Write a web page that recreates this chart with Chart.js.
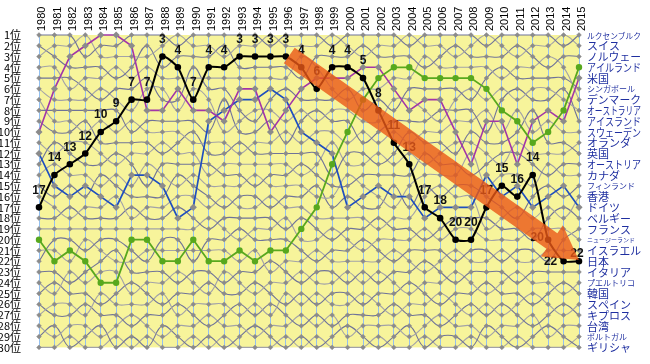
<!DOCTYPE html>
<html><head><meta charset="utf-8">
<script src="https://cdn.jsdelivr.net/npm/chart.js@4.4.1/dist/chart.umd.min.js"></script>
<style>html,body{margin:0;padding:0;background:#fff}#wrap{width:650px;height:364px;position:relative}</style>
</head><body><div id="wrap"><canvas id="c"></canvas></div>
<script>
// ---- data ----
const years = [1980,1981,1982,1983,1984,1985,1986,1987,1988,1989,1990,1991,1992,1993,1994,1995,1996,1997,1998,1999,2000,2001,2002,2003,2004,2005,2006,2007,2008,2009,2010,2011,2012,2013,2014,2015];
const countries2015 = ['ルクセンブルク','スイス','ノルウェー','アイルランド','米国','シンガポール','デンマーク','オーストラリア','アイスランド','スウェーデン','オランダ','英国','オーストリア','カナダ','フィンランド','香港','ドイツ','ベルギー','フランス','ニュージーランド','イスラエル','日本','イタリア','プエルトリコ','韓国','スペイン','キプロス','台湾','ポルトガル','ギリシャ'];
const japanRank   = [17,14,13,12,10,9,7,7,3,4,7,4,4,3,3,3,3,4,6,4,4,5,8,11,13,17,18,20,20,17,15,16,14,20,22,22];
const usRank      = [10,6,3,2,1,1,2,8,8,6,8,8,9,6,6,10,8,6,5,5,5,4,4,6,8,7,7,10,13,9,9,13,9,8,9,5];
const irelandRank = [20,22,21,22,24,24,20,20,22,22,20,22,22,21,22,21,21,19,17,13,10,7,5,4,4,5,5,5,5,6,8,9,11,10,8,4];
const germanyRank = [12,15,16,15,16,17,14,14,15,18,17,9,8,7,7,6,7,10,11,12,17,16,15,16,16,18,17,17,17,14,16,15,17,16,15,17];
// ranks of the other 26 countries, one row per year
const grayByYear = [
[1,3,2,4,5,6,8,7,9,11,13,14,15,16,18,19,22,21,23,24,25,27,26,28,29,30],
[1,2,3,4,5,7,8,9,10,12,11,13,16,17,18,19,20,21,23,25,24,26,27,29,28,30],
[1,2,4,6,5,7,8,9,10,11,12,14,15,18,17,19,20,22,24,23,25,26,27,28,30,29],
[3,1,4,5,6,7,8,10,9,11,13,14,16,17,18,19,21,20,23,24,25,27,26,28,29,30],
[2,3,4,5,7,6,8,9,11,12,13,15,14,17,18,19,20,21,22,23,26,25,27,29,28,30],
[2,3,5,4,6,7,8,10,11,13,12,14,15,16,18,19,20,22,21,23,25,26,27,28,30,29],
[1,3,4,5,6,8,10,9,11,12,13,15,16,18,17,19,21,22,23,25,24,26,28,27,29,30],
[1,3,2,4,5,6,9,10,11,12,15,13,16,17,18,19,22,21,23,24,25,26,27,28,30,29],
[1,2,4,5,7,6,9,10,12,11,13,14,16,17,18,19,20,21,23,24,26,25,27,29,28,30],
[2,1,3,5,7,8,9,10,11,12,13,15,14,16,17,19,20,21,24,23,25,27,26,28,29,30],
[1,2,3,5,4,6,9,11,10,12,13,14,15,16,18,19,22,21,23,24,25,26,27,28,30,29],
[1,2,3,5,6,7,10,11,12,14,13,15,16,17,19,18,20,21,23,25,24,26,28,27,29,30],
[1,3,2,5,6,10,7,11,12,13,14,15,17,16,18,19,20,21,24,23,25,26,27,28,30,29],
[1,2,4,5,8,9,10,12,11,13,14,15,16,17,18,20,19,22,23,24,25,27,26,28,29,30],
[1,2,4,5,9,8,10,11,12,13,15,14,16,17,18,19,20,21,23,25,24,26,27,29,28,30],
[2,1,4,5,7,8,9,11,12,13,14,15,17,16,18,19,20,23,22,24,25,27,26,28,29,30],
[1,2,4,5,6,9,11,10,12,13,14,15,16,17,19,18,20,22,23,24,26,25,27,28,30,29],
[1,2,5,3,7,8,9,11,12,14,13,15,16,17,18,20,21,22,24,23,25,26,28,27,29,30],
[1,2,3,4,7,9,8,10,12,13,14,16,15,18,19,20,22,21,23,24,26,25,27,28,30,29],
[2,1,3,6,7,8,9,10,14,11,15,16,17,18,20,19,21,22,23,24,25,26,28,27,29,30],
[1,2,3,7,6,8,9,11,12,13,15,14,16,18,19,20,21,22,24,23,25,26,27,29,28,30],
[1,3,2,6,8,9,11,10,12,13,14,15,17,18,19,21,20,22,23,24,26,25,27,28,29,30],
[1,2,3,6,7,9,10,11,13,12,14,16,17,19,18,20,21,22,24,23,25,26,27,28,30,29],
[1,2,3,5,8,7,9,10,12,13,14,17,15,18,19,20,22,21,23,24,25,27,26,28,29,30],
[2,1,3,5,6,7,9,11,10,12,14,15,17,18,19,20,21,22,23,25,24,26,27,29,28,30],
[1,2,4,3,6,8,9,10,11,13,12,14,15,16,20,19,21,23,22,24,25,26,27,28,30,29],
[1,2,3,4,6,9,8,10,11,12,13,14,16,15,19,20,21,22,23,24,26,25,28,27,29,30],
[1,3,2,4,6,7,8,9,12,11,13,14,15,16,18,19,22,21,24,23,25,26,27,28,29,30],
[1,2,3,4,7,6,8,9,10,11,14,12,15,16,18,19,21,22,23,24,25,27,26,28,30,29],
[2,1,3,4,5,7,10,8,11,12,13,15,16,19,18,20,21,22,23,25,24,26,27,29,28,30],
[1,2,3,5,4,6,7,10,11,13,12,14,17,18,19,20,22,21,23,24,25,27,26,28,29,30],
[1,3,2,4,5,7,6,8,10,11,12,14,18,17,19,20,21,22,24,23,25,26,27,28,30,29],
[1,2,3,4,5,6,7,10,8,12,13,15,16,18,20,19,21,22,23,24,26,25,28,27,29,30],
[1,2,4,3,5,6,7,9,11,12,14,13,15,17,18,19,22,21,23,24,25,26,27,29,28,30],
[2,1,3,4,5,7,6,10,11,12,13,14,16,18,17,19,20,21,23,25,24,27,26,28,29,30],
[1,2,3,7,6,8,9,10,12,11,13,14,15,16,18,20,19,21,23,24,25,26,27,28,30,29]
];
// trend arrow (data coordinates: year, rank)
const arrowFrom = [1996.22, 2.9];
const arrowTo   = [2014.99, 21.88];

// ---- styling ----
const smallNames = {'ルクセンブルク':8,'シンガポール':8,'フィンランド':8,'プエルトリコ':8,'ポルトガル':8,'ニュージーランド':6};
const labelShift = {2013:[-11,-2], 2014:[-13,0], 2015:[-2,-8]};

const pts = arr => years.map((y,i)=>({x:y, y:arr[i]}));
const datasets = [];
const grayLine = ['#6f7399','#a2a2a8'];
for (let k=0;k<26;k++){
  datasets.push({
    data: years.map((y,t)=>({x:y, y:grayByYear[t][k]})),
    borderColor: grayLine[k%2], borderWidth:1.1, tension:0.4,
    pointStyle:'rectRot', pointRadius:2.4, pointBackgroundColor:'#8b8b8b', pointBorderColor:'#8b8b8b', pointBorderWidth:0.5,
    order:10, clip:false
  });
}
datasets.push({data:pts(germanyRank), borderColor:'#1f4fbf', borderWidth:1.7, tension:0,
  pointStyle:'rectRot', pointRadius:2.4, pointBackgroundColor:'#8b8b8b', pointBorderColor:'#8b8b8b', order:5, clip:false});
datasets.push({data:pts(usRank), borderColor:'#a236a8', borderWidth:1.6, tension:0,
  pointStyle:'rectRot', pointRadius:2.4, pointBackgroundColor:'#8b8b8b', pointBorderColor:'#8b8b8b', order:4, clip:false});
datasets.push({data:pts(irelandRank), borderColor:'#58a81e', borderWidth:1.8, tension:0,
  pointStyle:'circle', pointRadius:2.3, pointBackgroundColor:'#58a81e', pointBorderColor:'#58a81e', order:3, clip:false});
datasets.push({data:pts(japanRank), borderColor:'#000', borderWidth:2, tension:0.2,
  pointStyle:'circle', pointRadius:2.3, pointBackgroundColor:'#000', pointBorderColor:'#000', order:1, clip:false, isJapan:true});

const bgPlugin = {id:'bg', beforeDraw(chart){
  const {ctx, chartArea:a} = chart; ctx.save(); ctx.fillStyle='#f7f49b';
  ctx.fillRect(a.left,a.top,a.right-a.left,a.bottom-a.top); ctx.restore();
}};
const overlayPlugin = {id:'overlay', afterDatasetsDraw(chart){
  const ctx = chart.ctx, xs = chart.scales.x, ys = chart.scales.y;
  const idx = chart.data.datasets.findIndex(d=>d.isJapan);
  const meta = chart.getDatasetMeta(idx);
  ctx.save();
  ctx.font = 'bold 12px "Liberation Sans", Arial, sans-serif';
  ctx.textAlign='center'; ctx.textBaseline='middle'; ctx.fillStyle='#111';
  meta.data.forEach((p,i)=>{
    const s = labelShift[years[i]] || [0,-17];
    ctx.fillText(String(japanRank[i]), p.x+s[0], p.y+s[1]);
  });
  ctx.restore();
  const x0=xs.getPixelForValue(arrowFrom[0]), y0=ys.getPixelForValue(arrowFrom[1]);
  const x1=xs.getPixelForValue(arrowTo[0]), y1=ys.getPixelForValue(arrowTo[1]);
  const dx=x1-x0, dy=y1-y0, L=Math.hypot(dx,dy), ux=dx/L, uy=dy/L, px=-uy, py=ux;
  const sw=9.5, hw=19, hl=33, bx=x1-ux*hl, by=y1-uy*hl;
  ctx.save(); ctx.beginPath();
  ctx.moveTo(x0+px*sw,y0+py*sw); ctx.lineTo(bx+px*sw,by+py*sw); ctx.lineTo(bx+px*hw,by+py*hw);
  ctx.lineTo(x1,y1); ctx.lineTo(bx-px*hw,by-py*hw); ctx.lineTo(bx-px*sw,by-py*sw); ctx.lineTo(x0-px*sw,y0-py*sw);
  ctx.closePath(); ctx.fillStyle='rgba(234,88,22,0.8)'; ctx.fill(); ctx.restore();
}, afterDraw(chart){
  const ctx = chart.ctx, ys = chart.scales.y, a = chart.chartArea;
  ctx.save(); ctx.fillStyle='#1f2fa0'; ctx.textAlign='left'; ctx.textBaseline='middle';
  countries2015.forEach((n,i)=>{
    const fs = smallNames[n] || 11;
    ctx.font = fs + 'px "Noto Sans CJK JP", sans-serif';
    ctx.fillText(n, a.right+8, ys.getPixelForValue(i+1)+0.5, 54);
  });
  ctx.restore();
}};

new Chart(document.getElementById('c'), {
  type:'line',
  data:{datasets},
  options:{
    responsive:true, maintainAspectRatio:false, animation:false, devicePixelRatio:1,
    layout:{padding:{top:0,right:71,bottom:11,left:0}},
    plugins:{legend:{display:false}, tooltip:{enabled:false}},
    scales:{
      x:{type:'linear', position:'top', min:1980, max:2015,
        afterFit(s){ s.height = 35; },
        ticks:{stepSize:1, autoSkip:false, minRotation:90, maxRotation:90, padding:4, labelOffset:16.5, color:'#000',
          font:{family:'"Liberation Sans", Arial, sans-serif', size:11}, callback:v=>String(v)},
        grid:{color:'#93c0f0', lineWidth:1, drawTicks:false}, border:{display:false}},
      y:{type:'linear', position:'left', min:1, max:30, reverse:true,
        afterFit(s){ s.width = 39; },
        ticks:{stepSize:1, autoSkip:false, padding:10, color:'#000',
          font:{family:'"Noto Sans CJK JP", sans-serif', size:11}, callback:v=>v+'位'},
        grid:{display:false}, border:{display:false}}
    }
  },
  plugins:[bgPlugin, overlayPlugin]
});
</script></body></html>
